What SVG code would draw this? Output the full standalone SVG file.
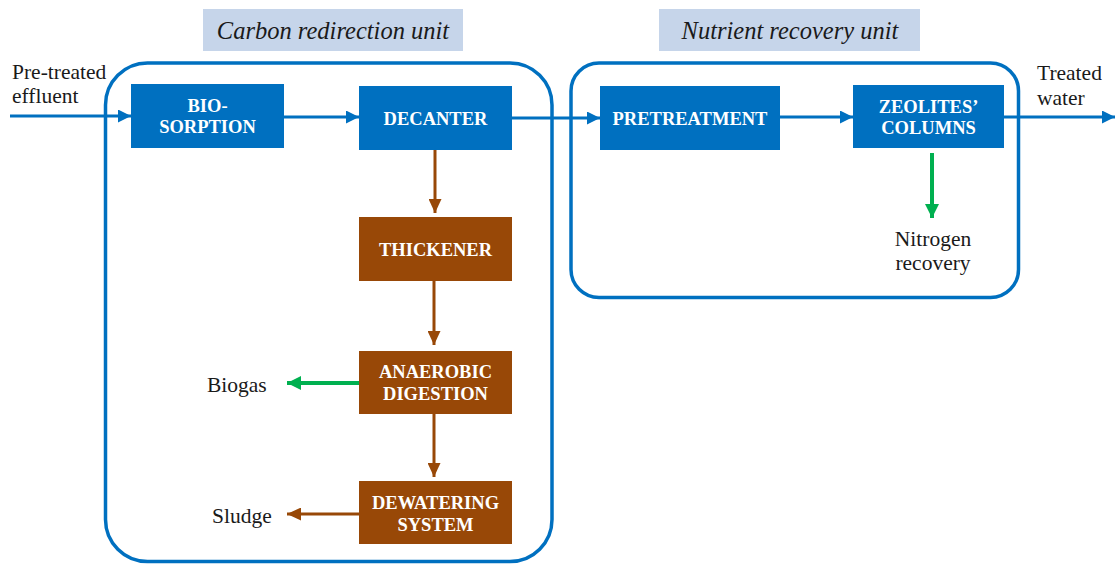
<svg xmlns="http://www.w3.org/2000/svg" width="1115" height="564" viewBox="0 0 1115 564">
<style>
.title{fill:#C6D5EA}
.ttext{font-family:'Liberation Serif','Times New Roman',Times,'DejaVu Serif',serif;font-style:italic;font-size:24.5px;fill:#1a1a1a;text-anchor:middle}
.blue{fill:#0070C0}
.brown{fill:#984807}
.btext{font-family:'Liberation Serif','Times New Roman',Times,'DejaVu Serif',serif;font-weight:bold;font-size:18.5px;fill:#ffffff;text-anchor:middle}
.label{font-family:'Liberation Serif','Times New Roman',Times,'DejaVu Serif',serif;font-size:21.5px;fill:#1a1a1a}
.unit{fill:none;stroke:#0070C0;stroke-width:3.5}
.cb{stroke:#0070C0;stroke-width:3;fill:none}
.cr{stroke:#984807;stroke-width:3;fill:none}
.cg{stroke:#00B050;stroke-width:4;fill:none}
</style>
<defs>
<marker id="ab" markerUnits="userSpaceOnUse" markerWidth="13" markerHeight="13" refX="13" refY="6.5" orient="auto"><path d="M0,0 L13,6.5 L0,13 z" fill="#0070C0"/></marker>
<marker id="ar" markerUnits="userSpaceOnUse" markerWidth="14" markerHeight="13" refX="14" refY="6.5" orient="auto"><path d="M0,0 L14,6.5 L0,13 z" fill="#984807"/></marker>
<marker id="ag" markerUnits="userSpaceOnUse" markerWidth="14" markerHeight="14" refX="14" refY="7" orient="auto"><path d="M0,0 L14,7 L0,14 z" fill="#00B050"/></marker>
</defs>
<g id="carbon-unit">
<rect class="title" x="203" y="9" width="260" height="42"/>
<text class="ttext" x="333" y="39">Carbon redirection unit</text>
<rect class="unit" x="105.5" y="63" width="446.5" height="498.5" rx="42"/>
</g>
<g id="nutrient-unit">
<rect class="title" x="659" y="9" width="261" height="42"/>
<text class="ttext" x="790" y="39">Nutrient recovery unit</text>
<rect class="unit" x="571" y="63" width="447.5" height="234.5" rx="28"/>
</g>
<g id="connectors">
<line class="cb" x1="10" y1="116" x2="131" y2="116" marker-end="url(#ab)"/>
<line class="cb" x1="284" y1="117" x2="359" y2="117" marker-end="url(#ab)"/>
<line class="cb" x1="512" y1="118" x2="600" y2="118" marker-end="url(#ab)"/>
<line class="cb" x1="780" y1="117" x2="853" y2="117" marker-end="url(#ab)"/>
<line class="cb" x1="1004" y1="117" x2="1115" y2="117" marker-end="url(#ab)"/>
<line class="cr" x1="435" y1="150" x2="435" y2="213" marker-end="url(#ar)"/>
<line class="cr" x1="434" y1="281" x2="434" y2="345" marker-end="url(#ar)"/>
<line class="cr" x1="434" y1="414" x2="434" y2="477" marker-end="url(#ar)"/>
<line class="cg" x1="359" y1="383" x2="287" y2="383" marker-end="url(#ag)"/>
<line class="cr" x1="359" y1="514" x2="287" y2="514" marker-end="url(#ar)"/>
<line class="cg" x1="932" y1="153" x2="932" y2="218" marker-end="url(#ag)"/>
</g>
<g id="input-label">
<text class="label" x="12" y="79">Pre-treated</text>
<text class="label" x="12" y="103">effluent</text>
</g>
<g id="biosorption">
<rect class="blue" x="131" y="84" width="153" height="64"/>
<text class="btext" x="207.5" y="112">BIO-</text>
<text class="btext" x="207.5" y="133">SORPTION</text>
</g>
<g id="decanter">
<rect class="blue" x="359" y="86" width="153" height="64"/>
<text class="btext" x="435.5" y="125">DECANTER</text>
</g>
<g id="thickener">
<rect class="brown" x="359" y="217" width="153" height="64"/>
<text class="btext" x="435.5" y="256">THICKENER</text>
</g>
<g id="anaerobic-digestion">
<rect class="brown" x="359" y="351" width="153" height="63"/>
<text class="btext" x="435.5" y="378">ANAEROBIC</text>
<text class="btext" x="435.5" y="400">DIGESTION</text>
</g>
<g id="dewatering-system">
<rect class="brown" x="359" y="481" width="153" height="63"/>
<text class="btext" x="435.5" y="509">DEWATERING</text>
<text class="btext" x="435.5" y="531">SYSTEM</text>
</g>
<g id="biogas">
<text class="label" x="207" y="392">Biogas</text>
</g>
<g id="sludge">
<text class="label" x="212" y="523">Sludge</text>
</g>
<g id="pretreatment">
<rect class="blue" x="600" y="86" width="180" height="64"/>
<text class="btext" x="690" y="125">PRETREATMENT</text>
</g>
<g id="zeolites-columns">
<rect class="blue" x="853" y="85" width="151" height="63"/>
<text class="btext" x="928.5" y="113">ZEOLITES’</text>
<text class="btext" x="928.5" y="134">COLUMNS</text>
</g>
<g id="nitrogen-recovery">
<text class="label" x="933" y="246" text-anchor="middle">Nitrogen</text>
<text class="label" x="933" y="270" text-anchor="middle">recovery</text>
</g>
<g id="output-label">
<text class="label" x="1037" y="80">Treated</text>
<text class="label" x="1037" y="105">water</text>
</g>
</svg>
